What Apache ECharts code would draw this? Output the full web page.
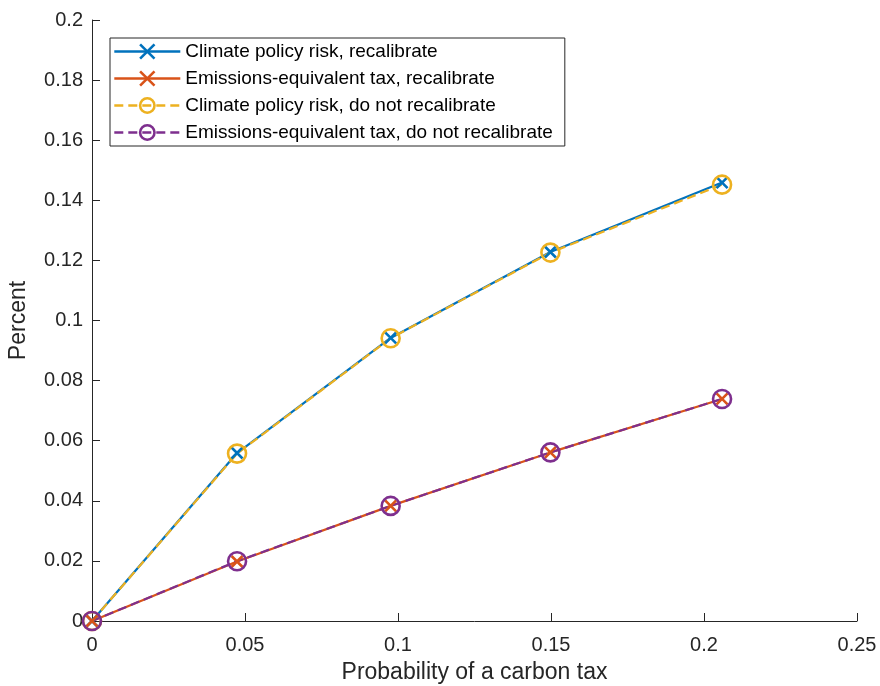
<!DOCTYPE html>
<html><head><meta charset="utf-8">
<script src="https://cdn.jsdelivr.net/npm/echarts@6/dist/echarts.min.js"></script>
<style>html,body{margin:0;padding:0;background:#fff}#c{width:880px;height:686px}</style>
</head><body><div id="c"></div>
<script>
const probability = [0, 0.0474, 0.0976, 0.1498, 0.2059];
const climateRecal = [0, 0.0559, 0.0942, 0.1228, 0.1459];
const taxRecal = [0, 0.0198, 0.0383, 0.0561, 0.0739];
const climateNoRecal = [0, 0.0557, 0.0941, 0.1226, 0.1452];
const taxNoRecal = [0, 0.0199, 0.0383, 0.0561, 0.0739];
const seriesNames = ['Climate policy risk, recalibrate','Emissions-equivalent tax, recalibrate','Climate policy risk, do not recalibrate','Emissions-equivalent tax, do not recalibrate'];

const pair = a => probability.map((x,i)=>[x,a[i]]);
const crossPath = 'path://M0,0L10,10M10,0L0,10';
const font = 'Liberation Sans, Arial, Helvetica, sans-serif';
function mk(name, data, color, dashed, cross){
  return {
    name, type:'line', data: pair(data),
    symbol: cross ? crossPath : 'circle',
    symbolSize: cross ? 11 : 18,
    showSymbol:true,
    lineStyle:{color, width:2.2, type: dashed ? [9,5] : 'solid'},
    itemStyle:{color: cross ? color : 'rgba(0,0,0,0)', borderColor:color, borderWidth: 2.6},
    emphasis:{disabled:true}, animation:false
  };
}
const chart = echarts.init(document.getElementById('c'));
chart.setOption({
  backgroundColor:'#fff',
  animation:false,
  grid:{left:92,right:23,top:20,bottom:65,containLabel:false,outerBoundsMode:'none'},
  legend:{
    left:110, top:38, orient:'vertical',
    itemWidth:66, itemHeight:18, itemGap:8,
    padding:[4,12,4,3],
    borderColor:'#262626', borderWidth:1, backgroundColor:'#fff',
    lineStyle:{width:2.6},
    itemStyle:{borderWidth:2.6},
    textStyle:{fontFamily:font, fontSize:19, lineHeight:19, color:'#000'},
    data:seriesNames
  },
  xAxis:{
    type:'value', min:0, max:0.25, interval:0.05,
    name:'Probability of a carbon tax', nameLocation:'middle', nameGap:40,
    nameTextStyle:{fontFamily:font, fontSize:23, color:'#262626'},
    axisLine:{show:true, lineStyle:{color:'#262626', width:1}},
    axisTick:{show:true, inside:true, length:8, lineStyle:{color:'#262626'}},
    axisLabel:{fontFamily:font, fontSize:20, color:'#262626', margin:14},
    splitLine:{show:false}
  },
  yAxis:{
    type:'value', min:0, max:0.2, interval:0.02,
    name:'Percent', nameLocation:'middle', nameGap:62, nameRotate:90,
    nameTextStyle:{fontFamily:font, fontSize:23, color:'#262626'},
    axisLine:{show:true, lineStyle:{color:'#262626', width:1}},
    axisTick:{show:true, inside:true, length:8, lineStyle:{color:'#262626'}},
    axisLabel:{fontFamily:font, fontSize:20, color:'#262626', margin:9},
    splitLine:{show:false}
  },
  series:[
    mk(seriesNames[0], climateRecal, '#0072BD', false, true),
    mk(seriesNames[1], taxRecal, '#D95319', false, true),
    mk(seriesNames[2], climateNoRecal, '#EDB120', true, false),
    mk(seriesNames[3], taxNoRecal, '#7E2F8E', true, false)
  ]
});
</script></body></html>
